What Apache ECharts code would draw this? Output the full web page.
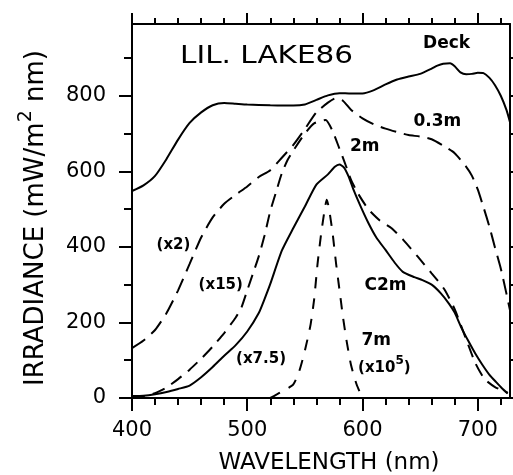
<!DOCTYPE html>
<html><head><meta charset="utf-8">
<script src="https://cdn.jsdelivr.net/npm/echarts@6/dist/echarts.min.js"></script>
<style>html,body{margin:0;padding:0;background:#fff}#c{width:513px;height:475px}</style>
</head><body><div id="c"></div>
<script>
// Wavelength (nm) / irradiance pairs
const deck = [[400,548],[410,563],[420,588],[430,633],[440,684],[450,728],[460,756],[470,775],[480,781],[490,779],[500,777],[520,775],[540,774],[550,777],[560,789],[570,801],[580,807],[590,806],[600,806],[610,815],[620,830],[630,843],[640,851],[650,858],[660,872],[665,880],[670,885],[676,886],[680,878],[685,862],[690,857],[695,858],[700,861],[705,860],[710,848],[715,828],[720,800],[725,762],[728,730]];
const m03 = [[400,132],[410,152],[420,180],[430,225],[440,285],[450,355],[460,425],[470,478],[480,514],[490,538],[500,560],[510,585],[520,603],[530,636],[540,670],[550,712],[560,756],[570,782],[577,794],[583,787],[590,763],[600,740],[610,724],[620,713],[630,704],[640,696],[650,692],[660,685],[670,668],[680,648],[690,612],[695,588],[700,552],[705,505],[710,455],[715,398],[720,343],[725,275],[728,232]];
const m2 = [[400,2],[410,5],[420,13],[430,28],[440,50],[450,75],[460,104],[470,136],[480,172],[490,213],[495,240],[500,285],[505,330],[510,375],[515,430],[520,495],[525,545],[530,595],[535,630],[540,655],[550,700],[558,727],[568,736],[574,707],[580,660],[585,620],[590,578],[596,542],[605,500],[615,470],[625,450],[635,420],[648,374],[660,330],[671,288],[680,235],[690,155],[698,92],[706,50],[715,29],[726,14]];
const c2m = [[400,5],[410,6],[420,10],[430,16],[440,24],[450,33],[460,55],[470,82],[480,112],[490,140],[500,176],[510,225],[515,262],[520,302],[530,390],[540,450],[550,507],[560,565],[570,592],[576,612],[580,618],[584,610],[588,586],[592,553],[598,510],[605,464],[612,425],[620,392],[628,358],[635,334],[645,320],[652,312],[660,300],[668,277],[675,250],[680,226],[686,185],[692,150],[698,117],[704,88],[710,62],[716,42],[721,26],[726,12]];
const m7 = [[520,0],[526,10],[533,22],[540,36],[545,70],[550,125],[555,195],[558,260],[561,355],[564,432],[567,495],[569,525],[571,500],[574,438],[577,358],[580,287],[583,216],[586,155],[590,88],[595,35],[600,0]];

const xMajor = [400,500,600,700];
const xMinor = [420,440,460,480,520,540,560,580,620,640,660,680,720];
const yMajor = [0,200,400,600,800];
const yMinor = [100,300,500,700,900];

// annotation texts at data positions [wavelength, irradiance]
const labels = [
  {value:[673,937], text:'{b|Deck}'},
  {value:[665,732], text:'{b|0.3m}'},
  {value:[602,666], text:'{b|2m}'},
  {value:[620,298], text:'{b|C2m}'},
  {value:[612,153], text:'{b|7m}'},
  {value:[619,80], text:'{a|(x10}{s|5}{a|)}'},
  {value:[436,406], text:'{a|(x2)}'},
  {value:[477,300], text:'{a|(x15)}'},
  {value:[512,103], text:'{a|(x7.5)}'}
];

const FF = '"DejaVu Sans", sans-serif';
const XMIN = 400, XMAX = 728, YMIN = 0, YMAX = 990;

function xAx(pos, ticks, len, showLine, showLabel, extra) {
  return Object.assign({
    type:'value', position:pos, min:XMIN, max:XMAX, interval:20,
    axisLine:{show:showLine, onZero:false, lineStyle:{color:'#000', width:2}},
    axisTick:{show:true, inside:false, length:len, customValues:ticks, lineStyle:{color:'#000', width:2}},
    axisLabel:{show:showLabel, customValues:xMajor, margin:22, color:'#000', fontFamily:FF, fontSize:21},
    splitLine:{show:false}
  }, extra||{});
}
function yAx(pos, ticks, len, showLine, showLabel, extra) {
  return Object.assign({
    type:'value', position:pos, min:YMIN, max:YMAX, interval:100,
    axisLine:{show:showLine, onZero:false, lineStyle:{color:'#000', width:2}},
    axisTick:{show:true, inside:false, length:len, customValues:ticks, lineStyle:{color:'#000', width:2}},
    axisLabel:{show:showLabel, customValues:yMajor, margin:26, color:'#000', fontFamily:FF, fontSize:21},
    splitLine:{show:false}
  }, extra||{});
}

const lineBase = {type:'line', showSymbol:false, symbol:'none', smooth:0.2, xAxisIndex:0, yAxisIndex:0, silent:true};

const chart = echarts.init(document.getElementById('c'), null, {renderer:'canvas'});
chart.setOption({
  animation:false,
  backgroundColor:'#fff',
  grid:{left:132, right:3, top:24, bottom:77, containLabel:false, outerBoundsMode:'none'},
  xAxis:[
    xAx('bottom', xMajor, 13, true, true, {name:'WAVELENGTH (nm)', nameLocation:'middle', nameGap:54,
      nameTextStyle:{fontFamily:FF, fontSize:23, color:'#000', padding:[0,0,0,16]}}),
    xAx('bottom', xMinor, 7, false, false),
    xAx('top', xMajor, 11, true, false),
    xAx('top', xMinor, 6, false, false)
  ],
  yAxis:[
    yAx('left', yMajor, 13, true, true, {name:'{b|IRRADIANCE (mW/m}{s|2}{b| nm)}', nameLocation:'middle', nameGap:77,
      nameTextStyle:{fontFamily:FF, fontSize:26, color:'#000', padding:[0,14,0,0],
        rich:{b:{fontFamily:FF, fontSize:26, color:'#000', lineHeight:38}, s:{fontFamily:FF, fontSize:19, color:'#000', lineHeight:19, verticalAlign:'top'}}}}),
    yAx('left', yMinor, 8, false, false),
    yAx('right', yMajor, 13, true, false),
    yAx('right', yMinor, 8, false, false)
  ],
  graphic:[{type:'text', left:180, top:44, style:{text:'LIL. LAKE86', font:'normal 25px "DejaVu Sans"', fill:'#000'}, scaleX:1.18}],
  series:[
    Object.assign({}, lineBase, {name:'Deck', data:deck, lineStyle:{color:'#000', width:2}}),
    Object.assign({}, lineBase, {name:'0.3m', data:m03, lineStyle:{color:'#000', width:2, type:[16,8]}}),
    Object.assign({}, lineBase, {name:'2m', data:m2, lineStyle:{color:'#000', width:2, type:[13,8]}}),
    Object.assign({}, lineBase, {name:'C2m', data:c2m, lineStyle:{color:'#000', width:2}}),
    Object.assign({}, lineBase, {name:'7m', data:m7, lineStyle:{color:'#000', width:2, type:[11,10]}}),
    {type:'scatter', xAxisIndex:0, yAxisIndex:0, silent:true, symbolSize:2, itemStyle:{color:'rgba(0,0,0,0)'},
      label:{show:true, position:'inside', color:'#000', opacity:1, fontFamily:FF, fontWeight:'bold', fontSize:17,
        formatter: p => labels[p.dataIndex].text,
        rich:{
          b:{fontFamily:FF, fontWeight:'bold', fontSize:17, color:'#000'},
          a:{fontFamily:FF, fontWeight:'bold', fontSize:15, color:'#000', lineHeight:26},
          s:{fontFamily:FF, fontWeight:'bold', fontSize:12, color:'#000', lineHeight:12, verticalAlign:'top'}}},
      data:labels.map(l => l.value)
    }
  ]
});
</script></body></html>
